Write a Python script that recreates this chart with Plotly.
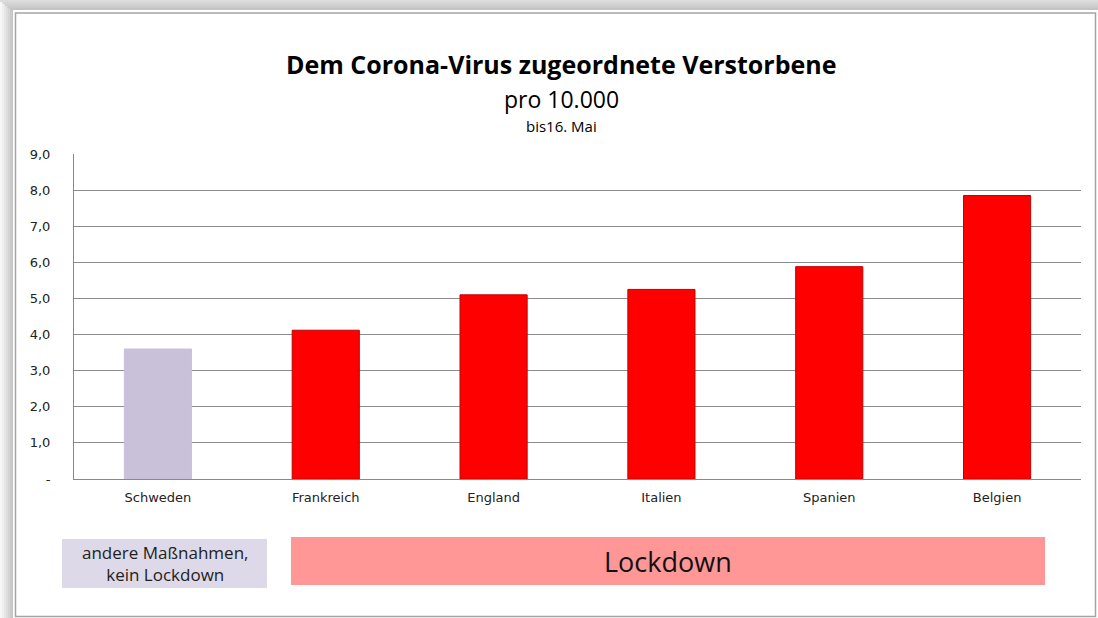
import plotly.graph_objects as go

countries = ["Schweden", "Frankreich", "England", "Italien", "Spanien", "Belgien"]
deaths_per_10k = [3.6, 4.12, 5.1, 5.25, 5.88, 7.85]
bar_colors = ["#C9C1DA", "#FF0000", "#FF0000", "#FF0000", "#FF0000", "#FF0000"]
edge_colors = ["#C9C1DA", "#C00000", "#C00000", "#C00000", "#C00000", "#C00000"]
tick_vals = [0, 1, 2, 3, 4, 5, 6, 7, 8, 9]
tick_text = ["-", "1,0", "2,0", "3,0", "4,0", "5,0", "6,0", "7,0", "8,0", "9,0"]

W, H = 1098, 618
L, R, T, B = 74, 1081, 154, 479  # plot area in px

def px(x):
    return (x - L) / (R - L)

def py(y):
    return (B - y) / (B - T)

fig = go.Figure()
fig.add_trace(go.Bar(
    x=countries, y=deaths_per_10k, width=0.4,
    marker=dict(color=bar_colors, line=dict(color=edge_colors, width=1)),
    hoverinfo="x+y",
))

shapes = []
# left shadow band (gradient white -> gray)
left_cols = ["#f7f7f7", "#efefef", "#e6e6e6", "#dddddd", "#d4d4d4", "#cbcbcb", "#c3c3c3"]
for i, c in enumerate(left_cols):
    shapes.append(dict(type="rect", xref="paper", yref="paper",
                       x0=px(i * 2), x1=px(i * 2 + 2), y0=py(0), y1=py(H),
                       fillcolor=c, line=dict(width=0), layer="below"))
# top shadow band
top_cols = ["#dcdcdc", "#d6d6d6", "#d0d0d0", "#cacaca", "#c4c4c4"]
for i, c in enumerate(top_cols):
    shapes.append(dict(type="rect", xref="paper", yref="paper",
                       x0=px(i * 2.5), x1=px(W), y0=py(i * 2), y1=py(i * 2 + 2),
                       fillcolor=c, line=dict(width=0), layer="below"))
# card (white) and its border lines
shapes.append(dict(type="rect", xref="paper", yref="paper",
                   x0=px(13), x1=px(W), y0=py(10), y1=py(H),
                   fillcolor="white", line=dict(width=0), layer="below"))
shapes.append(dict(type="rect", xref="paper", yref="paper",
                   x0=px(15.5), x1=px(1095.5), y0=py(13), y1=py(616.5),
                   fillcolor="rgba(0,0,0,0)", line=dict(color="#a4a4a4", width=1.5), layer="below"))
# bottom legend boxes
shapes.append(dict(type="rect", xref="paper", yref="paper",
                   x0=px(62), x1=px(267), y0=py(539), y1=py(588),
                   fillcolor="#DDD9E8", line=dict(width=0)))
shapes.append(dict(type="rect", xref="paper", yref="paper",
                   x0=px(291), x1=px(1045), y0=py(537), y1=py(585),
                   fillcolor="#FF9797", line=dict(width=0)))

FT = "Liberation Sans Narrow, Open Sans, sans-serif"
annotations = [
    dict(text="<b>Dem Corona-Virus zugeordnete Verstorbene</b>", x=px(561), y=py(64),
         font=dict(size=25, color="#000000", family=FT)),
    dict(text="pro 10.000", x=px(561), y=py(99),
         font=dict(size=23, color="#000000", family=FT)),
    dict(text="bis16. Mai", x=px(561), y=py(126),
         font=dict(size=15, color="#000000", family=FT)),
    dict(text="andere Maßnahmen,<br>kein Lockdown", x=px(165), y=py(563),
         font=dict(size=17, color="#222222", family=FT)),
    dict(text="Lockdown", x=px(668), y=py(561),
         font=dict(size=27, color="#111111", family=FT)),
]
for a in annotations:
    a.update(xref="paper", yref="paper", showarrow=False, xanchor="center", yanchor="middle")

fig.update_layout(
    width=W, height=H,
    margin=dict(l=L, r=W - R, t=T, b=H - B, pad=0),
    paper_bgcolor="white", plot_bgcolor="white",
    showlegend=False, bargap=0.6,
    shapes=shapes, annotations=annotations,
    font=dict(family="DejaVu Sans, Verdana, sans-serif", size=12, color="#333333"),
    xaxis=dict(showgrid=False, showline=True, linecolor="#888888", linewidth=1,
               ticks="", ticklabelstandoff=6, tickfont=dict(size=13, color="#222222"),
               fixedrange=True),
    yaxis=dict(range=[0, 9], tickvals=tick_vals, ticktext=tick_text,
               showgrid=True, gridcolor="#8c8c8c", gridwidth=1,
               showline=True, linecolor="#888888", linewidth=1, mirror=False,
               ticks="", ticklabelstandoff=20, tickfont=dict(size=13, color="#222222"),
               zeroline=False, fixedrange=True),
)

fig.write_html("out.html", config={"displayModeBar": False},
               post_script="document.body.style.margin='0';")
